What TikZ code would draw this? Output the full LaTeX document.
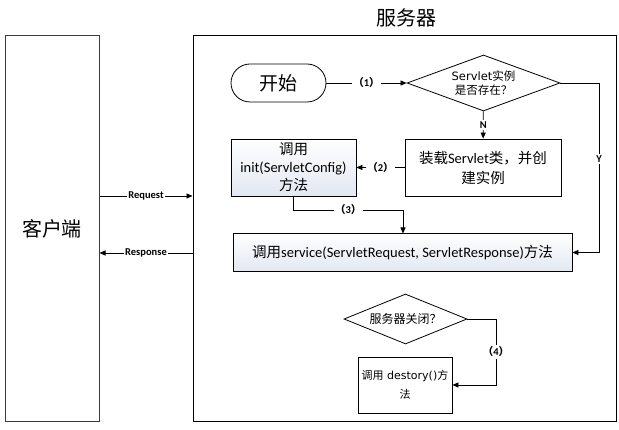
\documentclass[tikz,border=0pt]{standalone}
\usepackage{fontspec}
\setmainfont{Carlito}
\newfontfamily\cjk{Noto Sans CJK SC}
\newfontfamily\dv{DejaVu Sans}
\usetikzlibrary{shapes.geometric,arrows.meta}
\newcommand\zh[1]{{\cjk #1}}
\definecolor{boxshade}{RGB}{226,231,241}
\definecolor{frame}{RGB}{60,60,60}
\tikzset{
  box/.style={draw=black, line width=0.8pt, align=center, inner sep=1pt},
  gbox/.style={box, top color=white, bottom color=boxshade},
  dia/.style={diamond, aspect=2.75, draw=black, line width=0.8pt, align=center, inner sep=0pt, fill=white},
  arr/.style={draw=black, line width=0.8pt, -{Triangle[length=6pt,width=5pt]}},
  lbl/.style={fill=white, inner sep=1.5pt, font=\fontsize{10.5}{11}\selectfont\bfseries},
}
\begin{document}
\begin{tikzpicture}[x=1pt,y=-1pt]
\useasboundingbox (0,0) rectangle (619,430);
% outer boxes
\node[draw=frame, line width=1pt, minimum width=94pt, minimum height=386pt, inner sep=0pt, font=\fontsize{20}{22}\selectfont\cjk] (client) at (52,229) {客户端};
\node[draw=black, line width=1pt, minimum width=423pt, minimum height=386pt, inner sep=0pt] (server) at (404.5,229) {};
\node[font=\fontsize{20}{22}\selectfont\cjk] (title) at (406,18) {服务器};
% nodes
\node[draw=black, line width=0.8pt, rounded corners=19pt, minimum width=95pt, minimum height=38pt, fill=white, font=\fontsize{19}{21}\selectfont\cjk] (start) at (278.5,83) {开始};
\node[dia, minimum width=153pt, minimum height=56pt, font=\fontsize{11.5}{14}\selectfont\dv] (exists) at (483.5,83) {Servlet\zh{实例}\\\zh{是否存在？}};
\node[box, fill=white, minimum width=156pt, minimum height=57pt, font=\fontsize{14.5}{20}\selectfont] (load) at (483,167.5) {\zh{装载}Servlet\zh{类，并创}\\\zh{建实例}};
\node[gbox, minimum width=125pt, minimum height=57pt, font=\fontsize{14.5}{18}\selectfont] (init) at (293.5,167.5) {\zh{调用}\\init(ServletConfig)\\\zh{方法}};
\node[gbox, minimum width=339pt, minimum height=38pt, font=\fontsize{14.5}{17}\selectfont] (service) at (402.5,252.5) {\zh{调用}service(ServletRequest, ServletResponse)\zh{方法}};
\node[dia, minimum width=123pt, minimum height=50pt, font=\fontsize{12}{14}\selectfont\cjk] (closed) at (405.5,319) {服务器关闭？};
\node[box, fill=white, minimum width=94pt, minimum height=56pt, font=\fontsize{11}{19}\selectfont\dv] (destroy) at (405,385) {\zh{调用}~destory()\zh{方}\\\zh{法}};
% connectors
\draw[arr] (client.east |- 0,196) -- node[lbl]{Request} (server.west |- 0,196);
\draw[arr] (server.west |- 0,253) -- node[lbl]{Response} (client.east |- 0,253);
\draw[arr] (start) -- node[lbl]{\zh{（}1\zh{）}} (exists);
\draw[arr] (exists) -- node[lbl, pos=0.5]{N} (load);
\draw[arr] (load) -- node[lbl]{\zh{（}2\zh{）}} (init);
\draw[arr] (exists.east) -- (599,83) -- node[lbl, pos=0.45]{Y} (599,252.5) -- (service.east);
\draw[arr] (init.south) -- (293.5,210) -- node[lbl, pos=0.5]{\zh{（}3\zh{）}} (403,210) -- (403,233.5);
\draw[arr] (closed.east) -- (496,319) -- node[lbl, pos=0.5]{\zh{（}4\zh{）}} (496,385) -- (destroy.east);
\end{tikzpicture}
\end{document}
